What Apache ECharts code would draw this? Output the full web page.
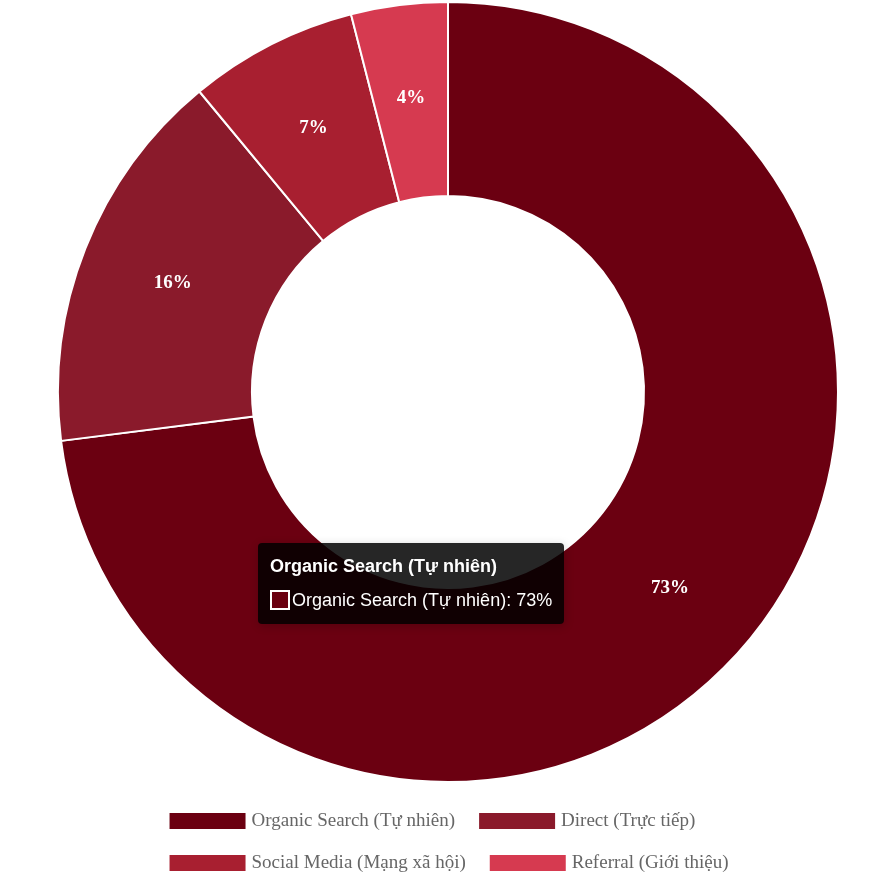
<!DOCTYPE html>
<html><head><meta charset="utf-8">
<script src="https://cdn.jsdelivr.net/npm/echarts@6/dist/echarts.min.js"></script>
<style>html,body{margin:0;padding:0;background:#fff}#c{width:896px;height:896px}</style>
</head><body><div id="c"></div>
<script>
const categories = ["Organic Search (Tự nhiên)", "Direct (Trực tiếp)", "Social Media (Mạng xã hội)", "Referral (Giới thiệu)"];
const values = [73, 16, 7, 4];
const colors = ["#6b0011", "#8a1a2b", "#a81f30", "#d63a50"];

const chart = echarts.init(document.getElementById('c'));
chart.setOption({
  animation: false,
  color: colors,
  tooltip: {
    trigger: 'item',
    alwaysShowContent: true,
    position: [258, 543],
    backgroundColor: 'rgba(0,0,0,0.85)',
    borderWidth: 0,
    padding: [10, 12],
    textStyle: { color: '#fff', fontFamily: 'Liberation Sans, Arial', fontSize: 18 },
    formatter: p => '<div style="font-weight:bold;margin-bottom:6px">' + p.name + '</div>' +
      '<span style="display:inline-block;width:20px;height:20px;border:2px solid #fff;background:' + p.color + ';vertical-align:middle;box-sizing:border-box;margin-right:2px"></span>' +
      '<span style="vertical-align:middle">' + p.name + ': ' + p.value + '%</span>'
  },
  legend: {
    bottom: 18, left: 'center', width: 690,
    itemWidth: 78, itemHeight: 18, itemGap: 22,
    icon: 'rect',
    textStyle: { color: '#666', fontFamily: 'Liberation Serif, Times New Roman', fontSize: 19 },
    data: categories
  },
  series: [{
    type: 'pie',
    center: [448, 392],
    radius: [196, 390],
    startAngle: 90,
    clockwise: true,
    itemStyle: { borderColor: '#fff', borderWidth: 2 },
    label: {
      position: 'inside', color: '#fff', fontWeight: 'bold',
      fontFamily: 'Liberation Serif, Times New Roman', fontSize: 19,
      formatter: '{c}%'
    },
    labelLine: { show: false },
    emphasis: { scale: false },
    data: categories.map((n, i) => ({ name: n, value: values[i] }))
  }]
});
chart.dispatchAction({ type: 'showTip', seriesIndex: 0, dataIndex: 0 });
</script></body></html>
